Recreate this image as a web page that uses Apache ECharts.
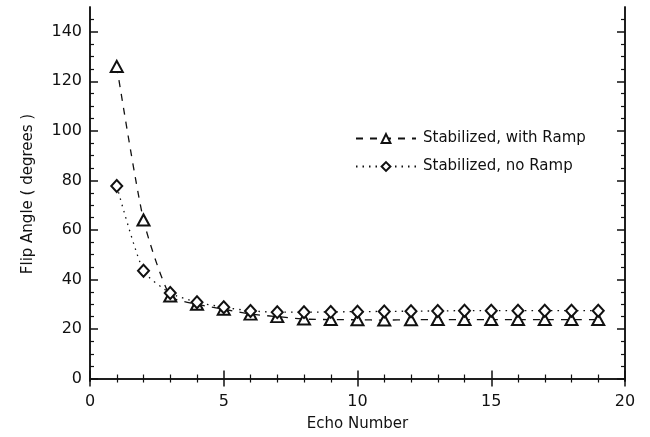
<!DOCTYPE html>
<html>
<head>
<meta charset="utf-8">
<script src="https://cdn.jsdelivr.net/npm/echarts@6/dist/echarts.min.js"></script>
<style>
  html, body { margin: 0; padding: 0; background: #fff; }
  #chart { width: 650px; height: 437px; }
</style>
</head>
<body>
<div id="chart"></div>
<script>
  // echo numbers 1..19
  const echoNumbers = [1, 2, 3, 4, 5, 6, 7, 8, 9, 10, 11, 12, 13, 14, 15, 16, 17, 18, 19]
  const withRamp = [126, 64, 33.3, 30, 28, 26, 25, 24, 23.8, 23.7, 23.6, 23.7, 23.8, 23.8, 23.8, 23.8, 23.8, 23.8, 23.8]
  const noRamp = [77.7, 43.5, 34.5, 30.8, 28.8, 27.3, 26.8, 26.8, 26.9, 27, 27.1, 27.2, 27.3, 27.4, 27.4, 27.4, 27.4, 27.4, 27.4]
  const yMajor = [0, 20, 40, 60, 80, 100, 120, 140]
  const yMinor = [5, 10, 15, 25, 30, 35, 45, 50, 55, 65, 70, 75, 85, 90, 95, 105, 110, 115, 125, 130, 135, 145]

  const font = 'DejaVu Sans'
  const ink = '#111'

  function pairs(ys) {
    return echoNumbers.map((x, i) => [x, ys[i]])
  }

  const chart = echarts.init(document.getElementById('chart'))

  const xBase = {
    type: 'value',
    min: 0,
    max: 20,
    interval: 5,
    axisLine: {show: true, lineStyle: {color: ink, width: 1.5}},
    axisTick: {show: true, inside: true, length: 8, lineStyle: {color: ink, width: 1.5}},
    minorTick: {show: true, splitNumber: 5, length: 4, lineStyle: {color: ink, width: 1.2}},
    splitLine: {show: false}
  }

  const yBase = {
    type: 'value',
    min: -1,
    max: 150,
    axisLine: {show: true, onZero: false, lineStyle: {color: ink, width: 1.5}},
    splitLine: {show: false}
  }

  const option = {
    backgroundColor: '#fff',
    animation: false,
    grid: {left: 90, right: 25, top: 7, bottom: 55},
    legend: {
      left: 350,
      top: 126,
      orient: 'vertical',
      itemWidth: 60,
      itemHeight: 11,
      itemGap: 13,
      textStyle: {fontFamily: font, fontSize: 15, color: ink, padding: [0, 0, 0, 2]},
      data: ['Stabilized, with Ramp', 'Stabilized, no Ramp']
    },
    xAxis: [
      Object.assign({}, xBase, {
        position: 'bottom',
        name: 'Echo Number',
        nameLocation: 'middle',
        nameGap: 36,
        nameTextStyle: {fontFamily: font, fontSize: 15, color: ink},
        axisLabel: {fontFamily: font, fontSize: 16, color: ink, margin: 13}
      }),
      Object.assign({}, xBase, {
        position: 'top',
        axisLabel: {show: false}
      })
    ],
    yAxis: [
      Object.assign({}, yBase, {
        position: 'left',
        name: 'Flip Angle ( degrees )',
        nameLocation: 'middle',
        nameGap: 54,
        nameTextStyle: {fontFamily: font, fontSize: 15, color: ink},
        axisTick: {show: true, inside: true, length: 8, customValues: yMajor, lineStyle: {color: ink, width: 1.5}},
        axisLabel: {fontFamily: font, fontSize: 16, color: ink, margin: 8, customValues: yMajor}
      }),
      Object.assign({}, yBase, {
        position: 'left',
        axisTick: {show: true, inside: true, length: 4, customValues: yMinor, lineStyle: {color: ink, width: 1.2}},
        axisLabel: {show: false}
      }),
      Object.assign({}, yBase, {
        position: 'right',
        axisTick: {show: true, inside: true, length: 8, customValues: yMajor, lineStyle: {color: ink, width: 1.5}},
        axisLabel: {show: false}
      }),
      Object.assign({}, yBase, {
        position: 'right',
        axisTick: {show: true, inside: true, length: 4, customValues: yMinor, lineStyle: {color: ink, width: 1.2}},
        axisLabel: {show: false}
      })
    ],
    series: [
      {
        name: 'Stabilized, with Ramp',
        type: 'line',
        xAxisIndex: 0,
        yAxisIndex: 0,
        smooth: 0.2,
        symbol: 'emptyTriangle',
        symbolSize: [12, 11],
        itemStyle: {color: ink, borderWidth: 1.5},
        lineStyle: {color: ink, width: 1.3, type: [7, 7]},
        data: pairs(withRamp)
      },
      {
        name: 'Stabilized, no Ramp',
        type: 'line',
        xAxisIndex: 0,
        yAxisIndex: 0,
        smooth: 0.2,
        symbol: 'emptyDiamond',
        symbolSize: [11, 12],
        itemStyle: {color: ink, borderWidth: 1.5},
        lineStyle: {color: ink, width: 1.3, type: [1.5, 5]},
        data: pairs(noRamp)
      }
    ]
  }

  chart.setOption(option)
</script>
</body>
</html>
